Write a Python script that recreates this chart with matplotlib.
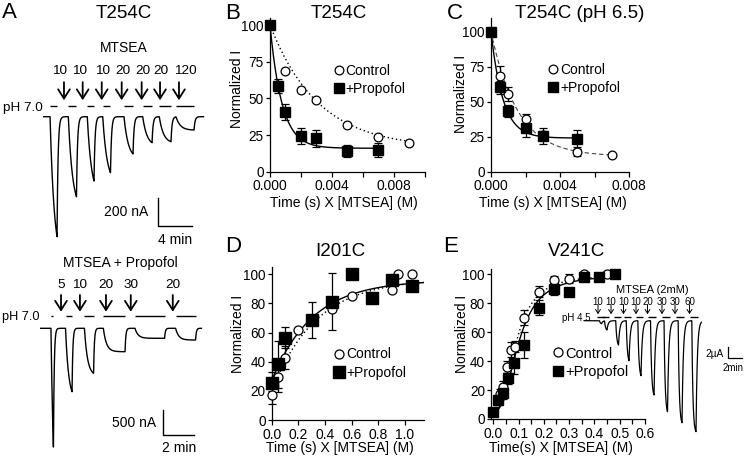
import numpy as np
import matplotlib
matplotlib.use('Agg')
import matplotlib.pyplot as plt
from matplotlib.transforms import offset_copy
from matplotlib.patches import ArrowStyle

plt.rcParams['font.family'] = ['Liberation Sans', 'DejaVu Sans']
plt.rcParams['axes.linewidth'] = 0.9
plt.rcParams['xtick.major.width'] = 0.9
plt.rcParams['ytick.major.width'] = 0.9
plt.rcParams['xtick.minor.width'] = 0.9
plt.rcParams['xtick.major.size'] = 3.5
plt.rcParams['ytick.major.size'] = 3.2
plt.rcParams['xtick.minor.size'] = 3.5
plt.rcParams['xtick.labelsize'] = 10
plt.rcParams['ytick.labelsize'] = 9.8

# ---------------- data ----------------
# Panel A, top trace (MTSEA), time in min, current in nA
a1_start = [0.24, 2.39, 4.62, 6.44, 8.94, 11.14, 13.09, 15.06]
a1_end = [1.06, 3.35, 5.41, 7.35, 10.0, 12.24, 14.47, 17.18]
a1_peak = [866, 578, 464, 404, 269, 188, 181, 96]
a1_arrow_t = [1.88, 4.08, 6.32, 8.67, 11.02, 13.18, 15.41]
a1_label_t = [1.41, 3.76, 6.47, 8.82, 11.14, 13.29, 16.12]
a1_arrow_lbl = ['10', '10', '10', '20', '20', '20', '120']
a1_bar = (12.9, -789, 4, 200)   # t0 (min), y0 (nA), length min, height nA

# Panel A, bottom trace (MTSEA + Propofol)
a2_start = [0.19, 1.13, 2.35, 3.57, 5.61, 8.23]
a2_end = [0.35, 1.55, 2.94, 4.97, 7.52, 9.52]
a2_peak = [2374, 1268, 900, 468, 200, 234]
a2_arrow_t = [0.84, 2.06, 3.74, 5.34, 8.05]
a2_label_t = [0.84, 2.06, 3.74, 5.34, 8.05]
a2_arrow_lbl = ['5', '10', '20', '30', '20']
a2_bar = (7.44, -2134, 2, 500)

# Panel E inset (V241C, MTSEA 2 mM), time min, current uA
e_in_end = [0.93, 1.71, 3.36, 4.86, 6.57, 8.43, 10.36, 12.43, 14.43]
e_in_dur = [0.3, 0.35, 0.4, 0.4, 0.45, 0.5, 0.5, 0.55, 0.6]
e_in_peak = [0.51, 1.59, 4.15, 6.84, 9.40, 12.70, 15.56, 17.44, 18.97]
e_in_arrow_t = [0.43, 2.29, 4.07, 5.86, 7.5, 9.57, 11.43, 13.5]
e_in_arrow_lbl = ['10', '10', '10', '10', '20', '30', '30', '60']
e_in_bar = (18.96, -6.43, 2, 2)

# Panel B (T254C)
b_ctrl_x = [0, 0.001, 0.002, 0.003, 0.005, 0.007, 0.009]
b_ctrl_y = [100, 68.6, 55.7, 48.9, 31.8, 23.9, 19.8]
b_prop_x = [0, 0.0005, 0.001, 0.002, 0.003, 0.005, 0.007]
b_prop_y = [100, 58.4, 40.7, 24.5, 22.7, 14.3, 14.8]
b_prop_err = [0, 4.5, 5.5, 5.5, 6, 4, 4.5]
b_fit_ctrl = (100, 16, 320)
b_fit_prop = (100, 16, 1300)

# Panel C (T254C pH 6.5)
c_ctrl_x = [0, 0.0005, 0.001, 0.002, 0.003, 0.005, 0.007]
c_ctrl_y = [100, 68.3, 55.5, 37.4, 26.2, 14.3, 11.7]
c_ctrl_err = [0, 7, 5, 4, 3, 3, 0]
c_prop_x = [0, 0.0005, 0.001, 0.002, 0.003, 0.005]
c_prop_y = [100, 60.2, 43.3, 31, 25.5, 23.1]
c_prop_err = [0, 4.5, 4.5, 6.5, 5.4, 7]
c_fit_ctrl = (100, 11, 650)
c_fit_prop = (100, 24, 1450)

# Panel D (I201C)
d_ctrl_x = [0, 0.05, 0.1, 0.2, 0.45, 0.6, 0.9, 0.95, 1.05]
d_ctrl_y = [17.2, 29.5, 42.8, 61.8, 76.2, 85.4, 89.2, 100, 100]
d_ctrl_err = [6.5, 10, 8, 0, 0, 0, 0, 0, 0]
d_prop_x = [0, 0.05, 0.1, 0.3, 0.45, 0.6, 0.75, 0.9, 1.05]
d_prop_y = [25.2, 38.2, 56.5, 68.6, 81.2, 100, 84, 96, 92]
d_prop_err = [8, 16, 7, 12.5, 19.5, 0, 0, 0, 0]
d_fit_ctrl = (20, 97, 3.0)
d_fit_prop = (27, 96, 3.25)

# Panel E (V241C)
e_ctrl_x = [0, 0.025, 0.04, 0.055, 0.07, 0.085, 0.12, 0.18, 0.24, 0.30, 0.36, 0.45]
e_ctrl_y = [5, 17, 22, 36, 48, 50, 70, 88, 96, 97, 100, 100]
e_ctrl_err = [0, 4, 4, 4, 5, 4, 5, 4, 3, 3, 0, 0]
e_prop_x = [0, 0.02, 0.04, 0.06, 0.08, 0.12, 0.18, 0.24, 0.30, 0.36, 0.42, 0.48]
e_prop_y = [5, 13, 18, 28, 39, 51, 77, 90, 88, 98, 98, 100]
e_prop_err = [0, 3, 4, 4, 8, 9, 5, 4, 0, 0, 0, 0]
e_fit_ctrl = (5, 100, 0.09, 2.5)
e_fit_prop = (5, 100, 0.10, 2.5)

# ---------------- helpers ----------------
W, H = 745, 459
fig = plt.figure(figsize=(W / 100, H / 100), dpi=100)


def px_axes(l, r, t, b):
    return fig.add_axes([l / W, 1 - b / H, (r - l) / W, (b - t) / H])


def ftext(x, y, s, **kw):
    kw.setdefault('ha', 'center')
    kw.setdefault('va', 'center')
    return fig.text(x / W, 1 - y / H, s, **kw)


def decay(x, top, plateau, k):
    return plateau + (top - plateau) * np.exp(-k * x)


def rise(x, y0, plateau, k):
    return plateau - (plateau - y0) * np.exp(-k * x)


def hill(x, bottom, top, x50, n):
    x = np.asarray(x, float)
    out = np.full_like(x, bottom)
    m = x > 0
    out[m] = bottom + (top - bottom) / (1 + (x50 / x[m]) ** n)
    return out


def build_trace(t, starts, ends, amps, tau_on, tau_off):
    y = np.zeros_like(t)
    for t0, t1, a in zip(starts, ends, amps):
        d = t1 - t0
        norm = 1 - np.exp(-d / tau_on)
        on = (t >= t0) & (t < t1)
        y[on] -= a * (1 - np.exp(-(t[on] - t0) / tau_on)) / norm
        off = t >= t1
        y[off] -= a * np.exp(-(t[off] - t1) / tau_off)
    return y


def trace_axes(box, origin, scale):
    l, r, t, b = box
    ax = px_axes(l, r, t, b)
    ox, oy = origin
    sx, sy = scale
    ax.set_xlim((l - ox) / sx, (r - ox) / sx)
    ax.set_ylim(-(b - oy) / sy, (oy - t) / sy)
    ax.axis('off')
    ax.patch.set_alpha(0)
    return ax


def offy(ax, dy, dx=0):
    return offset_copy(ax.transData, fig=fig, x=dx, y=dy, units='dots')


def draw_trace_panel(ax, starts, ends, amps, tau_on, tau_off, t_lo, t_hi,
                     arrow_t, label_t, arrow_lbl, dash_dy, head_dy, tail_dy,
                     lbl_dy, lw=1.0, fs=10, ms=12, alw=1.3, dash_extra=0.0):
    t = np.arange(t_lo, t_hi, 0.002)
    y = build_trace(t, starts, ends, amps, tau_on, tau_off)
    ax.plot(t, y, color='k', lw=lw, solid_joinstyle='round')
    trd = offy(ax, dash_dy)
    for s, e in zip(starts, ends):
        ax.plot([s - dash_extra, e + dash_extra], [0, 0], color='k', lw=1.0,
                transform=trd, solid_capstyle='butt')
    st = ArrowStyle('->', head_length=0.55, head_width=0.35)
    for tt in arrow_t:
        ax.annotate('', xy=(tt, 0), xycoords=offy(ax, head_dy),
                    xytext=(tt, 0), textcoords=offy(ax, tail_dy),
                    arrowprops=dict(arrowstyle=st, lw=alw, color='k',
                                    mutation_scale=ms, shrinkA=0, shrinkB=0))
    for tt, lb in zip(label_t, arrow_lbl):
        ax.text(tt, 0, lb, transform=offy(ax, lbl_dy), ha='center',
                va='center', fontsize=fs)
    return t, y


def scale_bar(ax, bar, lw=1.0):
    t0, y0, dt, dy = bar
    ax.plot([t0, t0, t0 + dt], [y0 + dy, y0, y0], color='k', lw=lw,
            solid_joinstyle='miter')


def style_ax(ax):
    for s in ['top', 'right']:
        ax.spines[s].set_visible(False)
    ax.tick_params(axis='x', direction='out', pad=2)
    ax.tick_params(axis='y', direction='out', pad=1.2)
    ax.patch.set_alpha(0)


def plot_data(ax, cx, cy, cerr, px, py, perr, csize=6.3, psize=7.3):
    if cerr is not None:
        ax.errorbar(cx, cy, yerr=cerr, fmt='none', ecolor='k', elinewidth=0.9,
                    capsize=3, capthick=0.9, clip_on=False, zorder=3)
    if perr is not None:
        ax.errorbar(px, py, yerr=perr, fmt='none', ecolor='k', elinewidth=0.9,
                    capsize=3, capthick=0.9, clip_on=False, zorder=3)
    h1, = ax.plot(cx, cy, 'o', ms=csize, mfc='white', mec='k', mew=0.9,
                  clip_on=False, zorder=4, label='Control')
    h2, = ax.plot(px, py, 's', ms=psize, mfc='k', mec='k', clip_on=False,
                  zorder=5, label='+Propofol')
    return h1, h2


def legend_at(ax, handles, x_px, y_px, fs=10):
    ax.legend(handles=handles, loc='upper left',
              bbox_to_anchor=(x_px / W, 1 - y_px / H),
              bbox_transform=fig.transFigure, frameon=False, fontsize=fs,
              handlelength=0.6, handletextpad=0.2, labelspacing=0.3,
              borderpad=0, borderaxespad=0)


# ---------------- Panel A ----------------
axA1 = trace_axes((40, 210, 40, 250), (48, 116.7), (8.5, 0.1385))
draw_trace_panel(axA1, a1_start, a1_end, a1_peak, 0.5, 0.12, -0.5, 18.3,
                 a1_arrow_t, a1_label_t, a1_arrow_lbl, dash_dy=10.7,
                 head_dy=16.5, tail_dy=34.5, lbl_dy=46, fs=9.7)
scale_bar(axA1, a1_bar)
t0, y0, dt, dy = a1_bar
axA1.text(t0, y0 + dy / 2, '200 nA', transform=offy(axA1, 0, -9),
          ha='right', va='center', fontsize=10)
axA1.text(t0 + dt / 2, y0, '4 min', transform=offy(axA1, -14),
          ha='center', va='center', fontsize=10)
axA1.text(a1_start[0], 0, 'pH 7.0', transform=offy(axA1, 8.7, -7),
          ha='right', va='center', fontsize=9.7)

axA2 = trace_axes((40, 210, 250, 459), (48, 328.3), (15.5, 0.05))
draw_trace_panel(axA2, a2_start, a2_end, a2_peak, 0.2, 0.05, -0.5, 9.9,
                 a2_arrow_t, a2_label_t, a2_arrow_lbl, dash_dy=12.3,
                 head_dy=16.6, tail_dy=33.3, lbl_dy=43.3, fs=9.7)
scale_bar(axA2, a2_bar)
t0, y0, dt, dy = a2_bar
axA2.text(t0, y0 + dy / 2, '500 nA', transform=offy(axA2, 0, -7),
          ha='right', va='center', fontsize=10)
axA2.text(t0 + dt / 2, y0, '2 min', transform=offy(axA2, -13.3),
          ha='center', va='center', fontsize=10)
axA2.text(a2_start[0], 0, 'pH 7.0', transform=offy(axA2, 11, -11),
          ha='right', va='center', fontsize=9.2)

ftext(2, 12, 'A', ha='left', fontsize=16)
ftext(123.3, 13.3, 'T254C', fontsize=13.5)
ftext(123.3, 48.3, 'MTSEA', fontsize=10)
ftext(120, 263.3, 'MTSEA + Propofol', fontsize=10)

# ---------------- Panel B ----------------
axB = px_axes(270, 424.5, 17.7, 171.7)
style_ax(axB)
xx = np.linspace(0, b_ctrl_x[-1], 200)
axB.plot(xx, decay(xx, *b_fit_ctrl), color='k', lw=1.0, ls=(0, (1, 2)))
xx = np.linspace(0, b_prop_x[-1], 200)
axB.plot(xx, decay(xx, *b_fit_prop), color='k', lw=1.0)
hB = plot_data(axB, b_ctrl_x, b_ctrl_y, None, b_prop_x, b_prop_y, b_prop_err)
axB.set_xlim(0, 0.010)
axB.set_ylim(0, 105)
axB.set_xticks([0, 0.004, 0.008])
axB.set_xticklabels(['0.000', '0.004', '0.008'])
axB.set_xticks([0.002, 0.006, 0.010], minor=True)
axB.set_yticks([0, 25, 50, 75, 100])
legend_at(axB, hB, 334.5, 64)
ftext(225, 13.3, 'B', ha='left', fontsize=16)
ftext(338.3, 13.3, 'T254C', fontsize=13.5)
ftext(344, 202.5, 'Time (s) X [MTSEA] (M)', fontsize=10)
ftext(236.7, 89, 'Normalized I', rotation=90, fontsize=10)

# ---------------- Panel C ----------------
axC = px_axes(491, 629.3, 18.3, 171.7)
style_ax(axC)
xx = np.linspace(0, c_ctrl_x[-1], 200)
axC.plot(xx, decay(xx, *c_fit_ctrl), color='#444444', lw=0.8, ls=(0, (4, 2.5)))
xx = np.linspace(0, c_prop_x[-1], 200)
axC.plot(xx, decay(xx, *c_fit_prop), color='k', lw=1.0)
hC = plot_data(axC, c_ctrl_x, c_ctrl_y, c_ctrl_err, c_prop_x, c_prop_y, c_prop_err)
axC.set_xlim(0, 0.008)
axC.set_ylim(0, 109.5)
axC.set_xticks([0, 0.004, 0.008])
axC.set_xticklabels(['0.000', '0.004', '0.008'])
axC.set_xticks([0.002, 0.006], minor=True)
axC.set_yticks([0, 25, 50, 75, 100])
legend_at(axC, hC, 549, 63)
ftext(446.7, 13.3, 'C', ha='left', fontsize=16)
ftext(580, 13.3, 'T254C (pH 6.5)', fontsize=13.5)
ftext(552.4, 202.5, 'Time (s) X [MTSEA] (M)', fontsize=10)
ftext(461.5, 94, 'Normalized I', rotation=90, fontsize=10)

# ---------------- Panel D ----------------
axD = px_axes(271.7, 424.3, 267, 420)
style_ax(axD)
xx = np.linspace(0, 1.14, 300)
axD.plot(xx, rise(xx, *d_fit_ctrl), color='k', lw=1.0, ls=(0, (1, 2)))
axD.plot(xx, rise(xx, *d_fit_prop), color='k', lw=1.0)
hD = plot_data(axD, d_ctrl_x, d_ctrl_y, d_ctrl_err, d_prop_x, d_prop_y, d_prop_err,
               csize=6.5, psize=8)
axD.set_xlim(0, 1.145)
axD.set_ylim(0, 105)
axD.set_xticks([0, 0.2, 0.4, 0.6, 0.8, 1.0])
axD.set_xticklabels(['0.0', '0.2', '0.4', '0.6', '0.8', '1.0'])
axD.set_yticks([0, 20, 40, 60, 80, 100])
legend_at(axD, hD, 335, 347.5)
ftext(225, 246.7, 'D', ha='left', fontsize=16)
ftext(340, 251.7, 'I201C', fontsize=13.5)
ftext(340, 448, 'Time (s) X [MTSEA] (M)', fontsize=10)
ftext(238.3, 334, 'Normalized I', rotation=90, fontsize=10)

# ---------------- Panel E ----------------
axE = px_axes(491, 645, 268.5, 419)
style_ax(axE)
xx = np.linspace(0, e_ctrl_x[-1], 300)
axE.plot(xx, hill(xx, *e_fit_ctrl), color='k', lw=1.0, ls=(0, (1, 2)))
xx = np.linspace(0, e_prop_x[-1], 300)
axE.plot(xx, hill(xx, *e_fit_prop), color='k', lw=1.0)
hE = plot_data(axE, e_ctrl_x, e_ctrl_y, e_ctrl_err, e_prop_x, e_prop_y, e_prop_err,
               csize=6.5, psize=7.3)
axE.set_xlim(-0.009, 0.6)
axE.set_ylim(0, 104)
axE.set_xticks([0, 0.1, 0.2, 0.3, 0.4, 0.5, 0.6])
axE.set_xticklabels(['0.0', '0.1', '0.2', '0.3', '0.4', '0.5', '0.6'])
axE.set_xticks(np.arange(0.05, 0.6, 0.1), minor=True)
axE.set_yticks([0, 20, 40, 60, 80, 100])
legend_at(axE, hE, 554, 346.5, fs=10.5)
ftext(443, 246.7, 'E', ha='left', fontsize=16)
ftext(576.7, 251.7, 'V241C', fontsize=13.5)
ftext(560.7, 448, 'Time(s) X [MTSEA] (M)', fontsize=10)
ftext(462, 334, 'Normalized I', rotation=90, fontsize=10)

# ---------------- Panel E inset ----------------
axI = trace_axes((575, 745, 280, 445), (595, 320.7), (7.0, 5.85))
e_in_start = [e - d for e, d in zip(e_in_end, e_in_dur)]
draw_trace_panel(axI, e_in_start, e_in_end, e_in_peak, 0.15, 0.18, -1.5, 15.2,
                 e_in_arrow_t, e_in_arrow_t, e_in_arrow_lbl, dash_dy=3.4,
                 head_dy=6.5, tail_dy=16, lbl_dy=18.7, lw=0.9, fs=7, ms=5,
                 alw=0.7, dash_extra=0.3)
scale_bar(axI, e_in_bar, lw=0.9)
t0, y0, dt, dy = e_in_bar
axI.text(t0, y0 + dy / 2, '2µA', transform=offy(axI, -2, -4),
         ha='right', va='center', fontsize=7.3)
axI.text(t0 + dt / 2, y0, '2min', transform=offy(axI, -10, -2),
         ha='center', va='center', fontsize=7)
axI.text(e_in_start[0], 0, 'pH 4.5', transform=offy(axI, 2.7, -9),
         ha='right', va='center', fontsize=7)
ftext(652, 290, 'MTSEA (2mM)', fontsize=8)

fig.savefig('out.png', dpi=100)
